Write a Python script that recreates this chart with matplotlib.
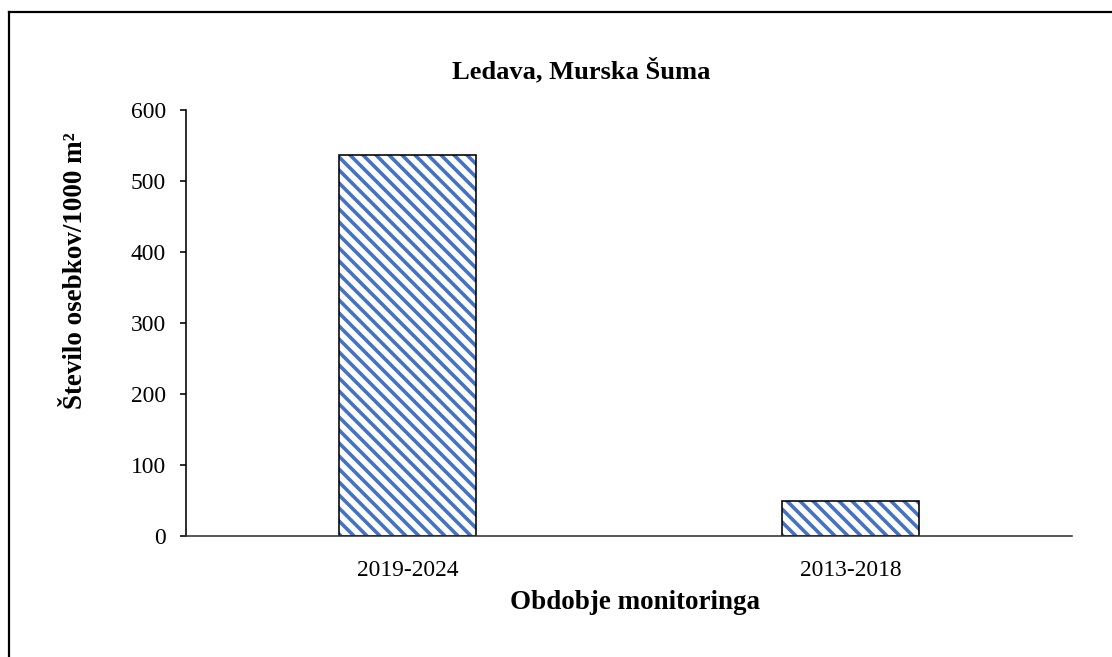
import matplotlib
matplotlib.use("Agg")
import matplotlib.pyplot as plt
from matplotlib.lines import Line2D

# podatki
obdobja = ["2019-2024", "2013-2018"]
osebki = [537, 49]

DPI = 78
def pt(px):
    # velikost v pikslih -> tocke
    return px * 72.0 / DPI

plt.rcParams['font.family'] = ['Liberation Serif', 'DejaVu Serif']
plt.rcParams['hatch.linewidth'] = pt(3.6)

fig = plt.figure(figsize=(1112 / DPI, 657 / DPI), dpi=DPI)
ax = fig.add_axes([186 / 1112, 1 - 536 / 657, (1072 - 186) / 1112, (536 - 110) / 657])

x = range(len(obdobja))
# crtkano polnilo (modro) in posebej crn rob stolpca
ax.bar(x, osebki, width=0.31, color='white', edgecolor='#4472C4', hatch='\\\\', linewidth=0)
ax.bar(x, osebki, width=0.31, fill=False, edgecolor='black', linewidth=pt(1.6))

ax.set_xlim(-0.5, 1.5)
ax.set_ylim(0, 600)
ax.set_yticks(range(0, 601, 100))
ax.set_xticks(list(x))
ax.set_xticklabels(obdobja)

for s in ['top', 'right']:
    ax.spines[s].set_visible(False)
ax.spines['left'].set_linewidth(pt(1.6))
ax.spines['bottom'].set_linewidth(pt(1.6))
ax.spines['bottom'].set_color('#333333')
ax.tick_params(axis='y', length=pt(6), width=pt(1.6), pad=pt(14), labelsize=pt(23.5))
ax.tick_params(axis='x', length=0, pad=pt(24), labelsize=pt(23.5))

ax.set_xlabel("Obdobje monitoringa", fontsize=pt(27), fontweight='bold', va='center')
ax.set_ylabel("Število osebkov/1000 m²", fontsize=pt(27), fontweight='bold', va='center')
ax.xaxis.set_label_coords(0.507, -0.157)
ax.yaxis.set_label_coords(-0.125, 0.622)

fig.text(581 / 1112, 1 - 70 / 657, "Ledava, Murska Šuma", ha='center', va='center',
         fontsize=pt(26.5), fontweight='bold')

# okvir grafikona
fig.add_artist(Line2D([8.5 / 1112, 1.0], [1 - 11.5 / 657] * 2, color='black', linewidth=pt(2.2)))
fig.add_artist(Line2D([8.5 / 1112] * 2, [0.0, 1 - 11.5 / 657], color='black', linewidth=pt(2.2)))

fig.savefig("out.png", dpi=DPI)
